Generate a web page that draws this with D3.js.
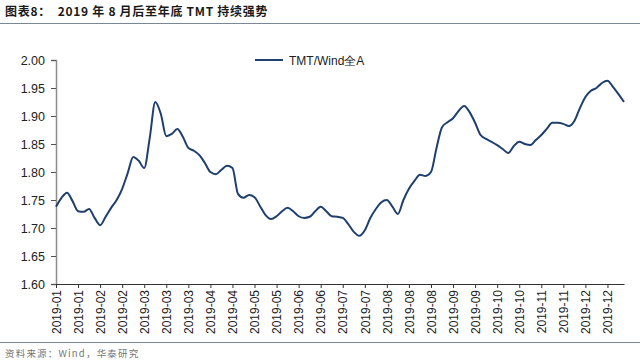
<!DOCTYPE html>
<html>
<head>
<meta charset="utf-8">
<script src="https://cdn.jsdelivr.net/npm/d3@7"></script>
<style>
  html, body { margin: 0; padding: 0; background: #fff; }
  svg { display: block; }
</style>
</head>
<body>
<svg id="chart" width="640" height="364"></svg>
<script>
const titleText = "图表8：  2019 年 8 月后至年底 TMT 持续强势";
const sourceText = "资料来源：Wind，华泰研究";
const seriesName = "TMT/Wind全A";

const tickLabels = [
  "2019-01","2019-01","2019-02","2019-02","2019-03","2019-03","2019-03",
  "2019-04","2019-04","2019-05","2019-05","2019-06","2019-06","2019-07",
  "2019-07","2019-08","2019-08","2019-08","2019-09","2019-09","2019-10",
  "2019-10","2019-11","2019-11","2019-12","2019-12"
];
const pointsPerTick = 4;

const values = [
  1.738,1.754,1.763,1.748,1.730,1.729,1.734,1.718,1.705,1.720,
  1.736,1.750,1.770,1.798,1.827,1.820,1.807,1.861,1.925,1.904,
  1.864,1.868,1.877,1.863,1.843,1.838,1.830,1.816,1.800,1.796,
  1.804,1.811,1.807,1.761,1.754,1.759,1.755,1.739,1.723,1.716,
  1.721,1.730,1.736,1.730,1.721,1.718,1.720,1.730,1.738,1.730,
  1.721,1.720,1.718,1.707,1.693,1.686,1.696,1.718,1.734,1.746,
  1.750,1.738,1.725,1.750,1.770,1.784,1.795,1.793,1.800,1.843,
  1.880,1.889,1.896,1.909,1.918,1.907,1.888,1.866,1.859,1.854,
  1.848,1.841,1.834,1.846,1.854,1.850,1.848,1.857,1.866,1.877,
  1.888,1.888,1.886,1.882,1.891,1.914,1.934,1.945,1.950,1.959,
  1.963,1.952,1.939,1.925
];
const yTicks = [1.60,1.65,1.70,1.75,1.80,1.85,1.90,1.95,2.00];

const svg = d3.select("#chart");
const mLeft = 56, mRight = 624, mTop = 60, mBottom = 284;

const x = d3.scaleLinear().domain([0, values.length - 1]).range([mLeft, mRight]);
const y = d3.scaleLinear().domain([1.60, 2.00]).range([mBottom, mTop]);

// title
svg.append("text")
  .attr("x", 5).attr("y", 16)
  .attr("font-family", "'Noto Sans CJK SC', sans-serif")
  .attr("font-size", 12).attr("font-weight", "bold")
  .attr("letter-spacing", 0.7)
  .attr("fill", "#1a1a1a")
  .style("white-space", "pre")
  .text(titleText);
svg.append("line").attr("x1", 0).attr("x2", 640).attr("y1", 23.5).attr("y2", 23.5)
  .attr("stroke", "#7a8797").attr("stroke-width", 1);

// bottom rule and source
svg.append("line").attr("x1", 0).attr("x2", 640).attr("y1", 342.5).attr("y2", 342.5)
  .attr("stroke", "#7a8797").attr("stroke-width", 1);
svg.append("text")
  .attr("x", 5).attr("y", 357)
  .attr("font-family", "'Noto Sans CJK SC', sans-serif")
  .attr("font-size", 9.5).attr("letter-spacing", 1.2).attr("fill", "#777")
  .text(sourceText);

// y axis
const yAxis = d3.axisLeft(y).tickValues(yTicks).tickFormat(d3.format(".2f")).tickSize(5).tickPadding(6);
const gy = svg.append("g").attr("transform", `translate(${mLeft},0)`).call(yAxis);
gy.select(".domain").attr("stroke", "#8c8c8c").attr("stroke-width", 1.5);
gy.selectAll(".tick line").attr("stroke", "#555");
gy.selectAll("text").attr("font-family", "'Liberation Sans', Arial, sans-serif")
  .attr("font-size", 12.5).attr("fill", "#222");

// x axis
const xTickVals = tickLabels.map((d, i) => i * pointsPerTick);
const xAxis = d3.axisBottom(x).tickValues(xTickVals)
  .tickFormat((d, i) => tickLabels[i]).tickSize(4).tickSizeOuter(0);
const gx = svg.append("g").attr("transform", `translate(0,${mBottom})`).call(xAxis);
gx.select(".domain").attr("stroke", "#333").attr("stroke-width", 1);
gx.selectAll(".tick line").attr("stroke", "#333");
gx.selectAll("text")
  .attr("font-family", "'Liberation Sans', Arial, sans-serif")
  .attr("font-size", 12).attr("fill", "#222")
  .attr("transform", "rotate(-90)")
  .attr("text-anchor", "end")
  .attr("x", -6).attr("y", 0).attr("dy", "0.35em");

// line
const line = d3.line().x((d, i) => x(i)).y(d => y(d)).curve(d3.curveMonotoneX);
svg.append("path").datum(values)
  .attr("d", line).attr("fill", "none")
  .attr("stroke", "#1f3f6e").attr("stroke-width", 2);

// legend
svg.append("line").attr("x1", 255).attr("x2", 283).attr("y1", 60).attr("y2", 60)
  .attr("stroke", "#1f3f6e").attr("stroke-width", 2);
svg.append("text").attr("x", 289).attr("y", 64.5)
  .attr("font-family", "'Liberation Sans', Arial, sans-serif")
  .attr("font-size", 12).attr("fill", "#222")
  .text(seriesName);
</script>
</body>
</html>
